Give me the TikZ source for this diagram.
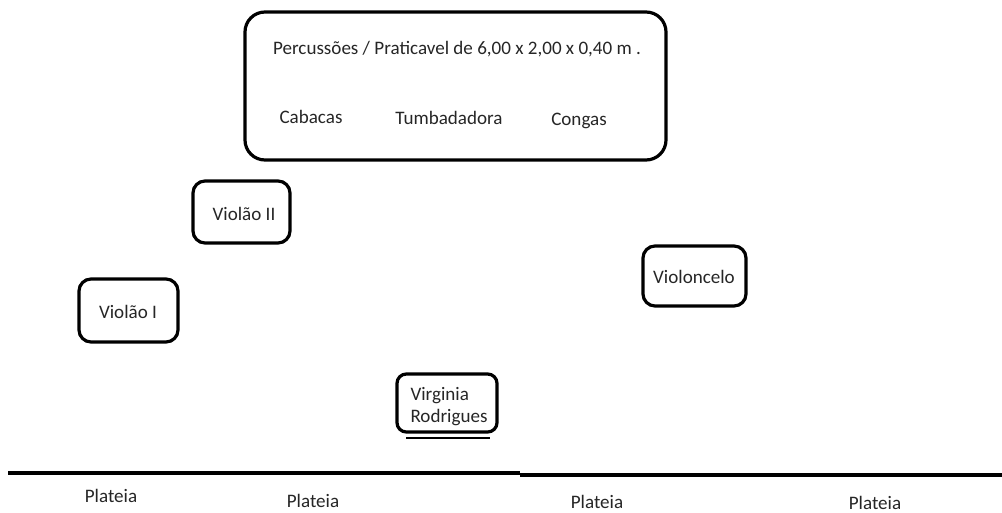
\documentclass[tikz,border=0pt]{standalone}
\usepackage{fontspec}
\setmainfont{Carlito}
\begin{document}
\begin{tikzpicture}[x=0.75pt,y=-0.75pt,
  box/.style={draw,line width=2.4pt,rounded corners=9pt},
  lbl/.style={font=\fontsize{14.3}{16.5}\selectfont,text=black!85,inner sep=0pt},
  stage/.style={line width=2.8pt}]
\useasboundingbox (0,0) rectangle (1002,513);
% percussion platform
\draw[box,rounded corners=15pt] (245,12) rectangle (666,160);
\node[lbl] (perc) at (457,49) {Percussões / Praticavel de 6,00 x 2,00 x 0,40 m .};
\node[lbl] (cab) at (311,117) {Cabacas};
\node[lbl] (tum) at (449,118) {Tumbadadora};
\node[lbl] (con) at (579,121) {Congas};
% musicians
\draw[box] (193,181) rectangle (290,243);
\node[lbl] (v2) at (244,214) {Violão II};
\draw[box] (79,279) rectangle (178,342);
\node[lbl] (v1) at (128,312) {Violão I};
\draw[box] (643,246) rectangle (746,306);
\node[lbl] (vc) at (694,277) {Violoncelo};
\draw[box,rounded corners=7pt] (397,374) rectangle (497,432);
\node[lbl,align=left] (vr) at (449,407) {Virginia\\Rodrigues};
\coordinate (ul1) at (406,438);
\coordinate (ul2) at (490,438);
\draw[line width=1pt] (ul1) -- (ul2);
% stage edge
\coordinate (s1) at (8,473);
\coordinate (s2) at (520,473);
\coordinate (s3) at (520,475);
\coordinate (s4) at (1002,475);
\draw[stage] (s1) -- (s2);
\draw[stage] (s3) -- (s4);
% audience
\node[lbl] (p1) at (111,496) {Plateia};
\node[lbl] (p2) at (313,501) {Plateia};
\node[lbl] (p3) at (597,502) {Plateia};
\node[lbl] (p4) at (875,503) {Plateia};
\end{tikzpicture}
\end{document}
